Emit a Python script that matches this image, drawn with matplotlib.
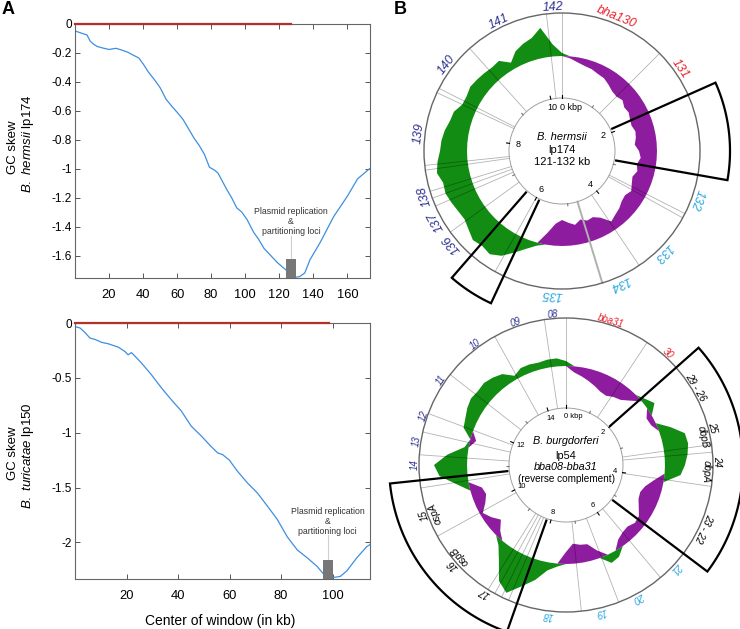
import numpy as np
import matplotlib.pyplot as plt
from matplotlib.patches import Rectangle, Circle

plt.rcParams['font.family'] = ['Liberation Sans', 'DejaVu Sans']
plt.rcParams['mathtext.fontset'] = 'custom'
plt.rcParams['mathtext.it'] = 'Liberation Sans:italic'
plt.rcParams['mathtext.rm'] = 'Liberation Sans'
plt.rcParams['axes.unicode_minus'] = False

# ---------------- panel A: cumulative GC skew ----------------
hermsii_x = [0.5, 3, 5.5, 7, 9, 11, 13, 16, 20, 24, 27, 31, 35, 37.5, 40, 43, 47, 50,
             53.5, 57, 60, 63.5, 67, 70, 73, 76, 79, 82, 84, 89, 92, 95, 98, 101, 105,
             108, 111, 115, 119, 122, 125, 127.5, 129.5, 132, 135, 138, 141, 144, 148,
             152, 156, 160, 163, 166, 169, 173]
hermsii_skew = [-0.05, -0.06, -0.07, -0.075, -0.12, -0.14, -0.155, -0.165, -0.176, -0.168,
                -0.178, -0.195, -0.22, -0.235, -0.275, -0.33, -0.39, -0.44, -0.52, -0.57,
                -0.61, -0.66, -0.73, -0.79, -0.84, -0.90, -0.99, -1.01, -1.03, -1.14, -1.20,
                -1.27, -1.30, -1.35, -1.44, -1.49, -1.55, -1.60, -1.65, -1.68, -1.71, -1.745,
                -1.75, -1.745, -1.72, -1.63, -1.57, -1.51, -1.42, -1.33, -1.26, -1.19, -1.13,
                -1.07, -1.04, -1.0]
turicatae_x = [0.5, 2, 4, 5.8, 7.8, 10.3, 13, 16.8, 19.4, 20.6, 21.9, 23.2, 25.8, 29.6, 33.5,
               37.4, 41.2, 45.1, 49, 52.8, 55.4, 57.3, 59.9, 63, 67, 70.8, 74.7, 78.5, 82.4,
               86.3, 90.1, 94, 96.5, 98.4, 100.4, 103, 105.5, 109.4, 113.2, 114.5]
turicatae_skew = [-0.036, -0.046, -0.09, -0.137, -0.15, -0.176, -0.19, -0.22, -0.26, -0.29,
                  -0.27, -0.30, -0.365, -0.47, -0.59, -0.70, -0.80, -0.94, -1.03, -1.125,
                  -1.185, -1.2, -1.25, -1.35, -1.46, -1.55, -1.67, -1.79, -1.95, -2.07, -2.14,
                  -2.22, -2.29, -2.33, -2.32, -2.31, -2.26, -2.14, -2.04, -2.02]
hermsii_red_end = 127
turicatae_red_end = 98.4
hermsii_locus = [124.0, 129.8]
turicatae_locus = [96.1, 100.0]

# ---------------- panel B: circular skew maps ----------------
hermsii_len = 10.35
hermsii_ring = [3, -2, -5, -7, -8, -10, -11, -14, -17, -18, -16, -19, -18, -20, -21, -19,
                -20, -22, -18, -16, -19, -17, -20, -18, -15, -18, -17, -14, -12, -9, -18, -22,
                -21, -24, -20, -23, -26, -22, -12, 3, 9, 17, 26, 31, 29, 31, 27, 24, 25, 27,
                29, 28, 32, 30, 27, 26, 24, 21, 20, 15, 15, 17, 16, 15, 14, 15, 7, 15, 19, 22,
                30, 12]
hermsii_edges_deg = [353.5, 0, 45, 117, 119, 146, 209, 234, 246.5, 250, 253, 262, 264, 295,
                     297, 318]
hermsii_names = ['142', 'bha130', '131', '132', '133', '134', '135', '136', '137', '138',
                 '139', '140', '141']
hermsii_name_deg = [356.5, 22, 55, 110, 135, 156, 184, 230, 241, 252, 277, 307, 334]
hermsii_name_grp = ['up', 'rep', 'rep', 'down', 'down', 'down', 'down', 'up', 'up', 'up',
                    'up', 'up', 'up']
hermsii_boxes = [[66, 100], [205, 221]]

burg_len = 14.75
burg_ring = [5, -6, -9, -12, -15, -18, -19, -16, -14, -8, 4, 9, -6, -5, 12, 24, 25, 23, 20,
             16, -10, -17, -20, -19, -15, -10, -9, -12, -11, -8, 7, 9, -8, -17, -18, -20, -12,
             3, 8, 20, 30, 42, 35, 18, 6, -6, -14, -8, -3, -10, -14, -12, 12, 28, 33, 20, 4,
             -6, 10, 12, 15, 17, 16, 17, 15, 12, 4, 8, 8, 7, 8, 8]
burg_edges_deg = [351.5, 0, 33.5, 82, 85, 98.4, 140, 159, 174, 203, 206, 209, 212, 241, 261,
                  274, 283, 290.5, 308, 331]
burg_names = ['08', 'bba31', '30', '29 - 26', '25', '24', '23 - 22', '21', '20', '19', '18',
              '17', '16', '15', '14', '13', '12', '11', '10', '09']
burg_name_deg = [355, 17, 42.5, 59, 75.6, 88.7, 114.5, 133, 151, 166.5, 187, 212.6, 228.6,
                 250.5, 270, 279, 289, 304, 323, 340.6]
burg_name_grp = ['up', 'rep', 'rep', 'other', 'other', 'other', 'other', 'down', 'down',
                 'down', 'down', 'other', 'other', 'other', 'up', 'up', 'up', 'up', 'up', 'up']
burg_genes = ['dbpB', 'dbpA', 'ospB', 'ospA']
burg_gene_deg = [78.3, 92.7, 229.6, 249.7]
burg_boxes = [[48.5, 127], [199.5, 264]]

grp_color = {'up': '#2e3192', 'rep': '#e8202a', 'down': '#29a8df', 'other': 'black'}
GREEN = '#128c12'
PURPLE = '#8e1c9e'

fig = plt.figure(figsize=(7.4, 6.29), dpi=100)


def fx(px):
    return px / 740


def fy(py):
    return 1 - py / 629


def skew_panel(ax, x, y, xmax, ymin, yticks, xticks, red_end, locus, bar_top, line_top, text_y):
    ax.plot(x, y, color='#3d8fe0', lw=0.9)
    ax.plot([0, red_end], [0, 0], color='#b3302c', lw=1.6, clip_on=False, zorder=5)
    ax.add_patch(Rectangle((locus[0], ymin), locus[1] - locus[0], bar_top - ymin,
                           color='#777777', zorder=3, lw=0))
    mid = (locus[0] + locus[1]) / 2
    ax.plot([mid, mid], [bar_top, line_top], color='#cfcfcf', lw=0.8, zorder=2)
    ax.text(mid, text_y, 'Plasmid replication\n&\npartitioning loci', ha='center',
            va='center', fontsize=6.3, color='#333333', linespacing=1.15)
    ax.set_xlim(0, xmax)
    ax.set_ylim(ymin, 0)
    ax.set_yticks(yticks)
    ax.set_yticklabels(['%g' % v for v in yticks], fontsize=8.5)
    ax.set_xticks(xticks)
    ax.set_xticklabels(['%g' % v for v in xticks], fontsize=9.3)
    ax.tick_params(direction='in', top=True, right=True, length=3.5, width=0.7,
                   color='#555555')
    ax.tick_params(axis='x', pad=8)
    ax.tick_params(axis='y', pad=2)
    for s in ax.spines.values():
        s.set_color('#666666')
        s.set_linewidth(0.8)


ax1 = fig.add_axes([fx(75), fy(278), 295 / 740, 254 / 629])
skew_panel(ax1, hermsii_x, hermsii_skew, 173.3, -1.755,
           [-1.6, -1.4, -1.2, -1, -0.8, -0.6, -0.4, -0.2, 0],
           [20, 40, 60, 80, 100, 120, 140, 160], hermsii_red_end, hermsii_locus,
           -1.624, -1.466, -1.363)

ax2 = fig.add_axes([fx(75), fy(579), 295 / 740, 256 / 629])
skew_panel(ax2, turicatae_x, turicatae_skew, 114.5, -2.334,
           [-2, -1.5, -1, -0.5, 0], [20, 40, 60, 80, 100], turicatae_red_end,
           turicatae_locus, -2.164, -1.93, -1.809)

fig.text(fx(13), fy(147), 'GC skew', rotation=90, ha='center', va='center', fontsize=9.5)
fig.text(fx(28), fy(144), r'$\it{B.\ hermsii}$ lp174', rotation=90, ha='center',
         va='center', fontsize=9.5)
fig.text(fx(13), fy(453), 'GC skew', rotation=90, ha='center', va='center', fontsize=9.5)
fig.text(fx(28), fy(456), r'$\it{B.\ turicatae}$ lp150', rotation=90, ha='center',
         va='center', fontsize=9.5)
fig.text(fx(220), fy(621), 'Center of window (in kb)', ha='center', va='center', fontsize=10)
fig.text(fx(8), fy(9), 'A', ha='center', va='center', fontsize=13, fontweight='bold')
fig.text(fx(400), fy(10), 'B', ha='center', va='center', fontsize=13, fontweight='bold')

# ---------------- right side, drawn in pixel units ----------------
axr = fig.add_axes([fx(385), 0, 355 / 740, 1])
axr.set_xlim(385, 740)
axr.set_ylim(629, 0)
axr.axis('off')


def polar(cx, cy, r, deg):
    t = np.radians(deg)
    return cx + r * np.sin(t), cy - r * np.cos(t)


def plasmid(ax, cx, cy, r_in, r_base, r_out, length, ring, edges, names, name_deg, grp,
            boxes, name_fs, tick_fs, lab_r, tick_lab_off):
    n = len(ring)
    deg = np.arange(n) * 360.0 / n
    deg_c = np.append(deg, 360)
    h = np.append(ring, ring[0])
    for part, col in [(np.maximum(h, 0), GREEN), (np.minimum(h, 0), PURPLE)]:
        xo, yo = polar(cx, cy, r_base + part, deg_c)
        xb, yb = polar(cx, cy, r_base, deg_c[::-1])
        ax.fill(np.r_[xo, xb], np.r_[yo, yb], color=col, lw=0, zorder=2)
    for d in edges:
        xs, ys = polar(cx, cy, np.array([r_in, r_out]), d)
        ax.plot(xs, ys, color=(0, 0, 0, 0.3), lw=0.6, zorder=3)
    ax.add_patch(Circle((cx, cy), r_out, fill=False, ec='#666666', lw=1.0, zorder=4))
    ax.add_patch(Circle((cx, cy), r_in, fill=False, ec='#a0a0a0', lw=0.7, zorder=4))
    for k in range(int(length) + 1):
        d = k / length * 360
        major = k % 2 == 0
        ln = 3 if major else 2
        xs, ys = polar(cx, cy, np.array([r_in, r_in + ln]), d)
        ax.plot(xs, ys, color='black' if major else '#777777', lw=0.8, zorder=5)
        if major:
            x, y = polar(cx, cy, r_in - tick_lab_off, d)
            if k == 0:
                ax.text(x - 2, y, '0 kbp', ha='left', va='center', fontsize=tick_fs)
            else:
                ax.text(x, y, str(k), ha='center', va='center', fontsize=tick_fs)
    for s, d, g in zip(names, name_deg, grp):
        x, y = polar(cx, cy, lab_r, d)
        ax.text(x, y, s, rotation=-d, rotation_mode='anchor', ha='center', va='center',
                fontsize=name_fs, style='italic', color=grp_color[g], zorder=6)
    for a, b in boxes:
        arc = np.linspace(a, b, 60)
        xo, yo = polar(cx, cy, r_out + 30, arc)
        x1, y1 = polar(cx, cy, r_in + 2, a)
        x2, y2 = polar(cx, cy, r_in + 2, b)
        ax.plot(np.r_[x1, xo, x2], np.r_[y1, yo, y2], color='black', lw=1.6, zorder=7,
                solid_joinstyle='miter')


# B. hermsii
cx1, cy1 = 562, 151
plasmid(axr, cx1, cy1, 53, 95, 138, hermsii_len, hermsii_ring, hermsii_edges_deg,
        hermsii_names, hermsii_name_deg, hermsii_name_grp, hermsii_boxes, 9, 6.5, 144, 9)
xs, ys = polar(cx1, cy1, np.array([53, 138]), 163)
axr.plot(xs, ys, color='#b0b0b0', lw=1.4, zorder=3)
axr.text(cx1, 137, 'B. hermsii', ha='center', va='center', fontsize=8, style='italic')
axr.text(cx1, 150, 'lp174', ha='center', va='center', fontsize=8)
axr.text(cx1, 162, '121-132 kb', ha='center', va='center', fontsize=8)

# B. burgdorferi
cx2, cy2 = 566, 465
plasmid(axr, cx2, cy2, 57, 99, 147, burg_len, burg_ring, burg_edges_deg,
        burg_names, burg_name_deg, burg_name_grp, burg_boxes, 7, 5.5, 151, 8)
for s, d in zip(burg_genes, burg_gene_deg):
    x, y = polar(cx2, cy2, 140, d)
    axr.text(x, y, s, rotation=-d, rotation_mode='anchor', ha='center', va='center',
             fontsize=7, style='italic', zorder=6)
axr.text(cx2, 441, 'B. burgdorferi', ha='center', va='center', fontsize=7.8, style='italic')
axr.text(cx2, 456, 'lp54', ha='center', va='center', fontsize=7.8)
axr.text(cx2, 467.5, 'bba08-bba31', ha='center', va='center', fontsize=7.8, style='italic')
axr.text(cx2 + 1, 478.5, '(reverse complement)', ha='center', va='center', fontsize=7.2)

fig.savefig('out.png', dpi=100)
